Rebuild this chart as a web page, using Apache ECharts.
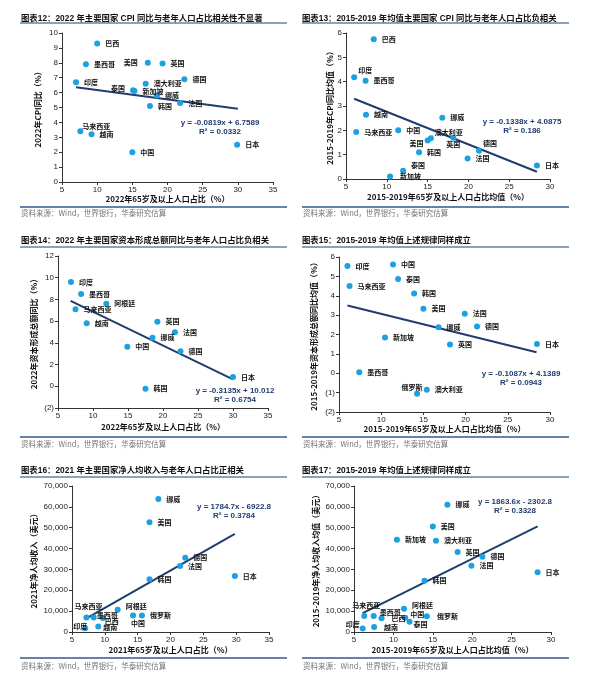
<!DOCTYPE html>
<html><head><meta charset="utf-8">
<script src="https://cdn.jsdelivr.net/npm/echarts@6/dist/echarts.min.js"></script>
<style>html,body{margin:0;padding:0;background:#fff}#c{width:594px;height:686px}</style>
</head><body><div id="c"></div>
<script>
// ---------- DATA ----------
// 图表12
const p12Names = ['巴西','墨西哥','美国','英国','印度','德国','澳大利亚','泰国','新加坡','挪威','法国','韩国','马来西亚','越南','中国','日本'];
const p12X = [10.0,8.4,17.2,19.3,7.0,22.4,16.9,15.1,15.3,18.5,21.8,17.5,7.6,9.2,15.0,29.9];
const p12Y = [9.3,7.9,8.0,7.95,6.7,6.9,6.6,6.15,6.1,5.8,5.3,5.1,3.4,3.2,2.0,2.5];
const p12TrendX = [7.0,30.0];
const p12TrendY = [6.36,4.92];
const p12Eq = ['y = -0.0819x + 6.7589','R² = 0.0332'];
// 图表13
const p13Names = ['巴西','印度','墨西哥','越南','马来西亚','中国','挪威','澳大利亚','美国','英国','德国','韩国','法国','泰国','新加坡','日本'];
const p13X = [8.4,6.0,7.4,7.45,6.25,11.4,16.8,15.4,15.0,18.15,21.3,13.95,19.9,12.0,10.4,28.4];
const p13Y = [5.74,4.18,4.04,2.64,1.93,2.0,2.52,1.67,1.58,1.70,1.16,1.10,0.84,0.34,0.10,0.55];
const p13TrendX = [6.0,28.4];
const p13TrendY = [3.30,0.30];
const p13Eq = ['y = -0.1338x + 4.0875','R² = 0.186'];
// 图表14
const p14Names = ['印度','墨西哥','阿根廷','马来西亚','越南','英国','法国','挪威','中国','德国','日本','韩国'];
const p14X = [6.85,8.3,11.9,7.5,9.1,19.2,21.7,18.5,14.9,22.5,30.0,17.5];
const p14Y = [9.6,8.5,7.6,7.1,5.8,5.95,4.97,4.48,3.65,3.22,0.86,-0.22];
const p14TrendX = [6.8,30.0];
const p14TrendY = [7.86,0.64];
const p14Eq = ['y = -0.3135x + 10.012','R² = 0.6754'];
// 图表15
const p15Names = ['印度','中国','泰国','马来西亚','韩国','美国','法国','挪威','德国','新加坡','英国','日本','墨西哥','澳大利亚','俄罗斯'];
const p15X = [6.0,11.4,12.0,6.25,13.9,15.0,19.9,16.8,21.35,10.45,18.15,28.45,7.4,15.4,14.25];
const p15Y = [5.54,5.61,4.86,4.50,4.11,3.33,3.07,2.37,2.41,1.84,1.48,1.51,0.05,-0.85,-1.06];
const p15TrendX = [6.0,28.4];
const p15TrendY = [3.50,1.08];
const p15Eq = ['y = -0.1087x + 4.1389','R² = 0.0943'];
// 图表16
const p16Names = ['挪威','美国','德国','法国','日本','韩国','阿根廷','马来西亚','墨西哥','巴西','中国','俄罗斯','越南','印度'];
const p16X = [18.15,16.8,22.25,21.45,29.8,16.8,11.95,7.2,8.3,9.7,14.3,15.65,9.0,7.0];
const p16Y = [63800,52600,35600,31700,26900,25300,10650,7000,7000,6700,7900,7900,2600,1800];
const p16TrendX = [7.0,29.8];
const p16TrendY = [6200,47000];
const p16Eq = ['y = 1784.7x - 6922.8','R² = 0.3784'];
// 图表17
const p17Names = ['挪威','美国','新加坡','澳大利亚','英国','德国','法国','日本','韩国','阿根廷','马来西亚','墨西哥','巴西','中国','泰国','俄罗斯','印度','越南'];
const p17X = [16.85,15.0,10.45,15.4,18.15,21.3,19.9,28.3,13.95,11.35,6.3,7.5,8.5,11.5,12.05,14.25,6.1,7.55];
const p17Y = [61000,50600,44200,43800,38400,36100,31800,28600,24600,11200,7700,7700,6600,6800,4900,7600,1700,2400];
const p17TrendX = [6.1,28.3];
const p17TrendY = [9000,50600];
const p17Eq = ['y = 1863.6x - 2302.8','R² = 0.3328'];

const titles = [
  '图表12：2022 年主要国家 CPI 同比与老年人口占比相关性不显著',
  '图表13：2015-2019 年均值主要国家 CPI 同比与老年人口占比负相关',
  '图表14：2022 年主要国家资本形成总额同比与老年人口占比负相关',
  '图表15：2015-2019 年均值上述规律同样成立',
  '图表16：2021 年主要国家净人均收入与老年人口占比正相关',
  '图表17：2015-2019 年均值上述规律同样成立'
];
const xNames = ['2022年65岁及以上人口占比（%）','2015-2019年65岁及以上人口占比均值（%）','2022年65岁及以上人口占比（%）','2015-2019年65岁及以上人口占比均值（%）','2021年65岁及以上人口占比（%）','2015-2019年65岁及以上人口占比均值（%）'];
const yNames = ['2022年CPI同比（%）','2015-2019年CPI同比均值（%）','2022年资本形成总额同比（%）','2015-2019年资本形成总额同比均值（%）','2021年净人均收入（美元）','2015-2019年净人均收入均值（美元）'];
const sourceText = '资料来源：Wind，世界银行，华泰研究估算';

// ---------- LAYOUT / STYLE ----------
const layout = [
  {left:62, top:33, width:211, height:149},
  {left:346, top:33, width:204, height:146},
  {left:58, top:256, width:210, height:152},
  {left:339, top:257, width:211, height:155},
  {left:72, top:486, width:197, height:146},
  {left:354, top:486, width:197, height:146}
];
const xScale = [[5,35,5],[5,30,5],[5,35,5],[5,30,5],[5,35,5],[5,30,5]];
const yScale = [[0,10,1],[0,6,1],[-2,12,2],[-2,6,1],[0,70000,10000],[0,70000,10000]];
const yNameGap = [20,12,20,21,34,34];
const xNameGap = [12,14,15,11,14,14];
const eqPos = [[220,118],[522,117],[235,386],[521,369],[234,502],[515,497]];
const titlePos = [[21,14],[302,14],[21,236],[302,236],[21,466],[302,466]];
const rowLines = [[23,207,213],[247,437,444],[477,658,666]];

// label placements: [position, dx, dy]
const place = [
  {'美国':['left',-2,0],'泰国':['left',0,-2],'马来西亚':['right',-6,-5]},
  {'印度':['right',-4,-7],'澳大利亚':['right',-4,-6],'美国':['left',4,3],'英国':['bottom',0,-5],'德国':['right',-4,-7],'泰国':['right',0,-5],'新加坡':['right',2,0]},
  {},
  {'俄罗斯':['top',-5,5]},
  {'阿根廷':['right',0,-3],'马来西亚':['top',2,0],'墨西哥':['right',-5,-2],'巴西':['right',-6,3],'中国':['bottom',5,-4],'越南':['right',-3,1],'印度':['left',10,-2]},
  {'阿根廷':['right',0,-3],'马来西亚':['top',2,1],'墨西哥':['right',-2,-4],'巴西':['right',2,0],'中国':['right',-3,-3],'泰国':['right',-4,3],'俄罗斯':['right',2,0],'印度':['left',5,-4],'越南':['right',2,0]}
];

const panels = [
  [p12Names,p12X,p12Y,p12TrendX,p12TrendY,p12Eq],
  [p13Names,p13X,p13Y,p13TrendX,p13TrendY,p13Eq],
  [p14Names,p14X,p14Y,p14TrendX,p14TrendY,p14Eq],
  [p15Names,p15X,p15Y,p15TrendX,p15TrendY,p15Eq],
  [p16Names,p16X,p16Y,p16TrendX,p16TrendY,p16Eq],
  [p17Names,p17X,p17Y,p17TrendX,p17TrendY,p17Eq]
];

const FONT = '"Liberation Sans", "Noto Sans CJK SC", sans-serif';
const CJK = '"Noto Sans CJK SC", sans-serif';
const POINT = '#1ba1e2';
const TREND = '#1f3d6d';
const RULE = '#6582a8';

const grid = [], xAxis = [], yAxis = [], series = [], title = [], graphic = [];
panels.forEach((p, i) => {
  const [names, xs, ys, tx, ty, eq] = p;
  grid.push(Object.assign({containLabel:false}, layout[i]));
  xAxis.push({
    type:'value', gridIndex:i, min:xScale[i][0], max:xScale[i][1], interval:xScale[i][2],
    splitLine:{show:false},
    axisLine:{show:true, onZero:false, lineStyle:{color:'#333', width:1}},
    axisTick:{show:true, length:3, lineStyle:{color:'#333'}},
    axisLabel:{fontSize:8, color:'#222', fontFamily:FONT, margin:4},
    name:xNames[i], nameLocation:'middle', nameGap:xNameGap[i],
    nameTextStyle:{fontSize:8, fontWeight:'bold', color:'#111', fontFamily:CJK}
  });
  yAxis.push({
    type:'value', gridIndex:i, min:yScale[i][0], max:yScale[i][1], interval:yScale[i][2],
    splitLine:{show:false},
    axisLine:{show:true, onZero:false, lineStyle:{color:'#333', width:1}},
    axisTick:{show:true, length:3, lineStyle:{color:'#333'}},
    axisLabel:{fontSize:8, color:'#222', fontFamily:FONT, margin:4,
      formatter:v => v < 0 ? '(' + (-v) + ')' : (Math.abs(v) >= 1000 ? v.toLocaleString('en-US') : String(v))},
    name:yNames[i], nameLocation:'middle', nameGap:yNameGap[i], nameRotate:90,
    nameTextStyle:{fontSize:8, fontWeight:'bold', color:'#111', fontFamily:CJK}
  });
  series.push({
    type:'line', xAxisIndex:i, yAxisIndex:i, symbol:'none', silent:true, z:2,
    lineStyle:{color:TREND, width:2},
    data: tx.map((x,k) => [x, ty[k]])
  });
  series.push({
    type:'scatter', xAxisIndex:i, yAxisIndex:i, symbolSize:6, z:3,
    itemStyle:{color:POINT, opacity:1},
    label:{show:true, position:'right', distance:5, fontSize:7, fontWeight:'bold', color:'#111', fontFamily:CJK,
      formatter:d => d.name},
    data: names.map((n,k) => {
      const item = {name:n, value:[xs[k], ys[k]]};
      const pl = place[i][n];
      if (pl) item.label = {position:pl[0], offset:[pl[1], pl[2]]};
      return item;
    })
  });
  title.push({
    text:titles[i], left:titlePos[i][0], top:titlePos[i][1], padding:0,
    textStyle:{fontSize:8.4, fontWeight:'bold', color:'#111', fontFamily:FONT}
  });
  graphic.push({
    type:'text', x:eqPos[i][0], y:eqPos[i][1],
    style:{text:eq[0] + '\n' + eq[1], align:'center', verticalAlign:'top', lineHeight:9,
      font:'bold 8px ' + FONT, fill:TREND}
  });
});

// rules & source text
rowLines.forEach(r => {
  [[20,287],[302,569]].forEach(([x1,x2]) => {
    graphic.push({type:'line', shape:{x1:x1, y1:r[0], x2:x2, y2:r[0]}, style:{stroke:RULE, lineWidth:1.3}});
    graphic.push({type:'line', shape:{x1:x1, y1:r[1], x2:x2, y2:r[1]}, style:{stroke:RULE, lineWidth:2}});
    graphic.push({type:'text', x:x1 + 1, y:r[2], style:{text:sourceText, font:'7.5px ' + CJK, fill:'#777', verticalAlign:'middle'}});
  });
});

const chart = echarts.init(document.getElementById('c'), null, {renderer:'canvas'});
chart.setOption({animation:false, backgroundColor:'#fff', title, grid, xAxis, yAxis, series, graphic});
</script>
</body></html>
